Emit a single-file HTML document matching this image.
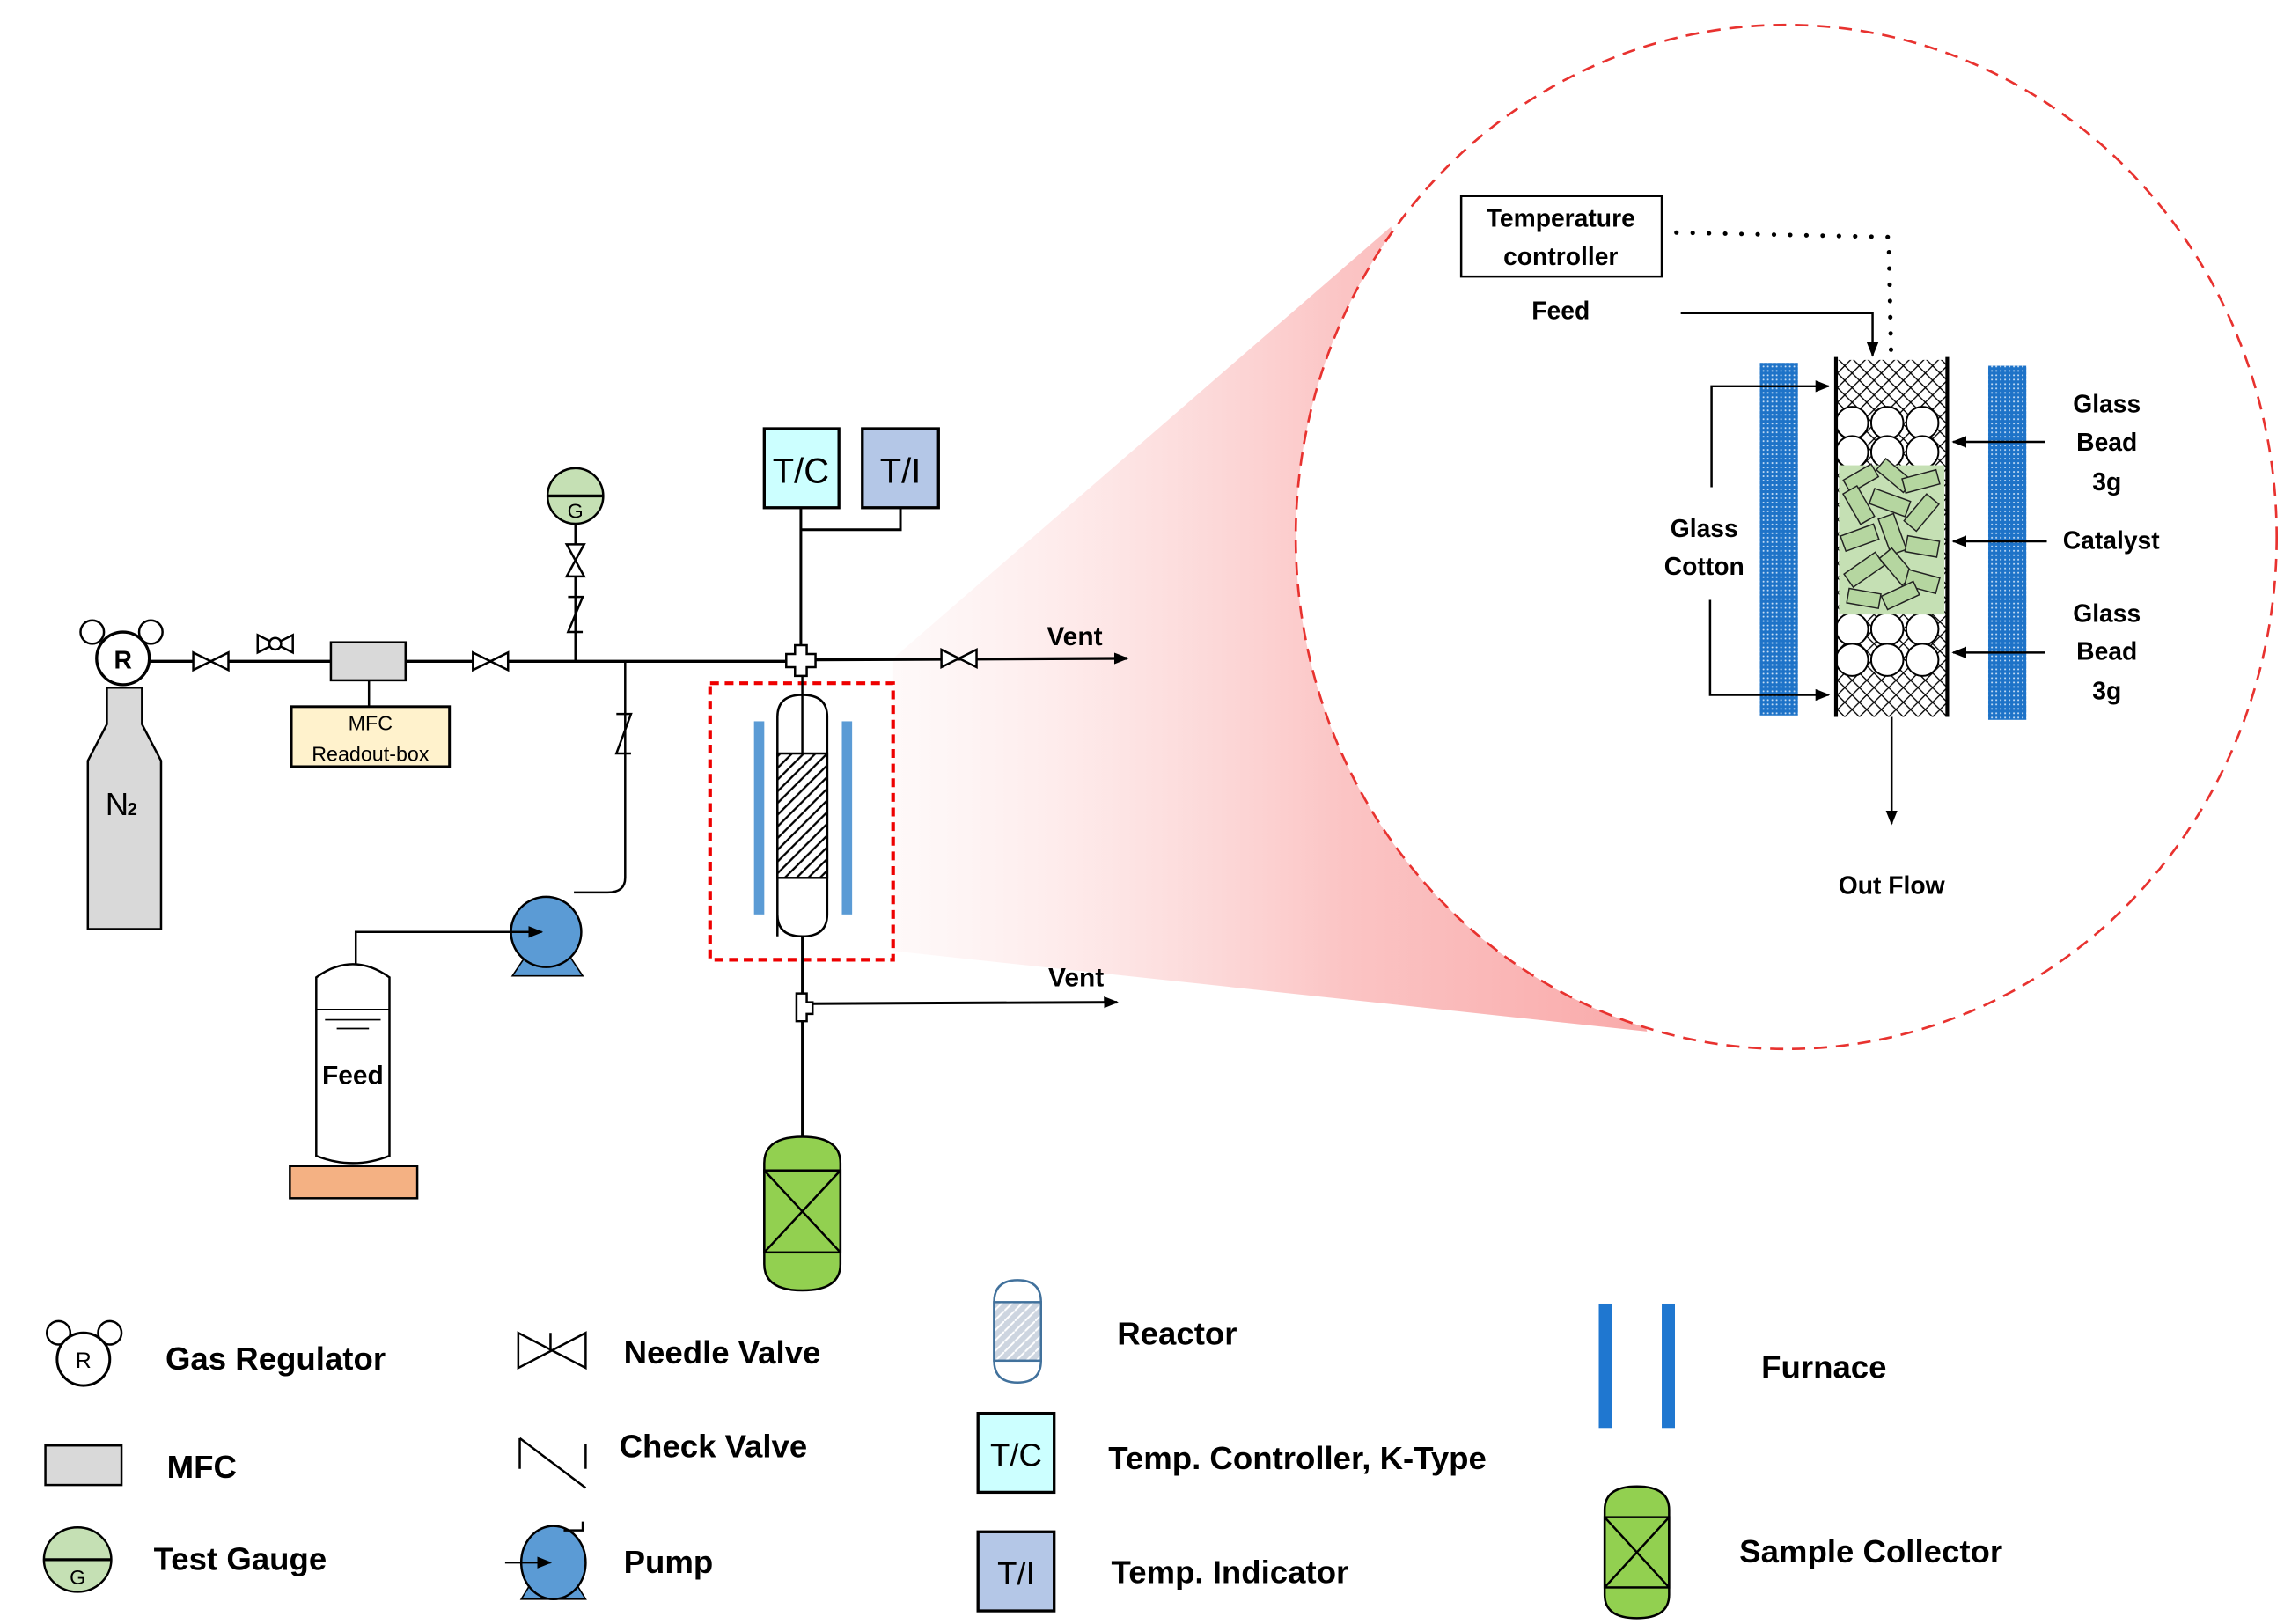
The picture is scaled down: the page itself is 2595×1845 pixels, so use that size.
<!DOCTYPE html>
<html><head><meta charset="utf-8"><style>
html,body{margin:0;padding:0;background:#fff;}
svg{display:block;}
text{font-family:"Liberation Sans",sans-serif;font-weight:bold;fill:#000;}
text.n{font-weight:normal;}
</style></head><body>
<svg width="2595" height="1845" viewBox="0 0 1560 1110" preserveAspectRatio="none" xmlns="http://www.w3.org/2000/svg">
<defs>
<linearGradient id="cone" x1="0" y1="0" x2="1" y2="0">
<stop offset="0" stop-color="#fde2e2" stop-opacity="0.2"/>
<stop offset="0.6" stop-color="#fbc4c4"/>
<stop offset="1" stop-color="#f9aaaa"/>
</linearGradient>
<pattern id="xh" width="10" height="10" patternUnits="userSpaceOnUse">
<rect width="10" height="10" fill="#fff"/>
<path d="M0 0L10 10M10 0L0 10" stroke="#000" stroke-width="0.8"/>
</pattern>
<pattern id="dots" width="3" height="3" patternUnits="userSpaceOnUse">
<rect width="3" height="3" fill="#1e73c8"/>
<circle cx="1.5" cy="1.5" r="0.6" fill="#cfe3f7"/>
</pattern>
<pattern id="hatch" width="8" height="8" patternUnits="userSpaceOnUse">
<rect width="8" height="8" fill="#fff"/>
<path d="M-2 10L10 -2M-2 2L2 -2M6 10L10 6" stroke="#000" stroke-width="1.4"/>
</pattern>
<pattern id="hatch2" width="7" height="7" patternUnits="userSpaceOnUse">
<rect width="7" height="7" fill="#cdd5e0"/>
<path d="M-2 9L9 -2" stroke="#fff" stroke-width="1.2"/>
</pattern>
<marker id="ar" markerWidth="10" markerHeight="10" refX="9" refY="5" orient="auto" markerUnits="userSpaceOnUse">
<path d="M0 1L10 5L0 9z" fill="#000"/>
</marker>
</defs>

<polygon points="610,450 950,155 1125,705 610,650" fill="url(#cone)"/>
<ellipse cx="1220" cy="367" rx="335" ry="350" fill="#fff" stroke="#e8322f" stroke-width="1.6" stroke-dasharray="9,6"/>

<path d="M73 470 L73 495 L60 520 L60 635 L110 635 L110 520 L97 495 L97 470 Z" fill="#d9d9d9" stroke="#000" stroke-width="1.5"/>
<text x="72" y="557" font-size="22" class="n">N</text><text x="87" y="557" font-size="12">2</text>
<circle cx="63" cy="432" r="8" fill="#fff" stroke="#000" stroke-width="1.5"/>
<circle cx="103" cy="432" r="8" fill="#fff" stroke="#000" stroke-width="1.5"/>
<circle cx="84" cy="450" r="18" fill="#fff" stroke="#000" stroke-width="2"/>
<text x="84" y="457" font-size="17" text-anchor="middle">R</text>

<line x1="102" y1="452" x2="545" y2="452" stroke="#000" stroke-width="2"/>
<line x1="555" y1="451" x2="770" y2="450" stroke="#000" stroke-width="2" marker-end="url(#ar)"/>
<g stroke="#000" stroke-width="1.5" fill="#fff">
<path d="M132 446 L156 458 L156 446 L132 458 Z"/>
<path d="M176 434 L200 446 L200 434 L176 446 Z"/>
<circle cx="188" cy="440" r="4"/>
<path d="M323 446 L347 458 L347 446 L323 458 Z"/>
<path d="M643 444 L667 456 L667 444 L643 456 Z"/>
</g>
<rect x="226" y="439" width="51" height="26" fill="#d9d9d9" stroke="#000" stroke-width="1.5"/>
<line x1="252" y1="465" x2="252" y2="483" stroke="#000" stroke-width="1.5"/>
<rect x="199" y="483" width="108" height="41" fill="#fff2cc" stroke="#000" stroke-width="1.8"/>
<text x="253" y="499" font-size="14" class="n" text-anchor="middle">MFC</text>
<text x="253" y="520" font-size="14" class="n" text-anchor="middle">Readout-box</text>

<line x1="393" y1="452" x2="393" y2="358" stroke="#000" stroke-width="1.5"/>
<path d="M387 372 L399 372 L387 394 L399 394 Z" fill="#fff" stroke="#000" stroke-width="1.5"/>
<path d="M388 408 L398 408 L388 432 L398 432" fill="none" stroke="#000" stroke-width="1.5"/>
<circle cx="393" cy="339" r="19" fill="#c5e0b4" stroke="#000" stroke-width="1.5"/>
<line x1="374" y1="339" x2="412" y2="339" stroke="#000" stroke-width="2"/>
<text x="393" y="354" font-size="14" class="n" text-anchor="middle">G</text>

<path d="M427 452 L427 600 Q427 610 415 610 L392 610" fill="none" stroke="#000" stroke-width="1.5"/>
<path d="M421 488 L431 488 L421 515 L431 515" fill="none" stroke="#000" stroke-width="1.5"/>
<path d="M350 667 L398 667 L390 655 L358 655 Z" fill="#5b9bd5" stroke="#000" stroke-width="1"/>
<circle cx="373" cy="637" r="24" fill="#5b9bd5" stroke="#000" stroke-width="1.5"/>
<path d="M243 660 L243 637 L370 637" fill="none" stroke="#000" stroke-width="1.5" marker-end="url(#ar)"/>
<path d="M216 668 Q241 650 266 668 L266 790 Q241 800 216 790 Z" fill="#fff" stroke="#000" stroke-width="1.5"/>
<line x1="216" y1="690" x2="266" y2="690" stroke="#000" stroke-width="1"/>
<line x1="222" y1="697" x2="260" y2="697" stroke="#000" stroke-width="1"/>
<line x1="230" y1="703" x2="252" y2="703" stroke="#000" stroke-width="1"/>
<text x="241" y="741" font-size="18" text-anchor="middle">Feed</text>
<rect x="198" y="797" width="87" height="22" fill="#f4b183" stroke="#000" stroke-width="1.5"/>

<rect x="522" y="293" width="51" height="54" fill="#ccffff" stroke="#000" stroke-width="2"/>
<rect x="589" y="293" width="52" height="54" fill="#b4c7e7" stroke="#000" stroke-width="2"/>
<text x="547" y="330" font-size="24" class="n" text-anchor="middle">T/C</text>
<text x="615" y="330" font-size="24" class="n" text-anchor="middle">T/I</text>
<path d="M547 347 L547 445 M547 362 L615 362 L615 347" fill="none" stroke="#000" stroke-width="1.8"/>
<path d="M543 441 h8 v6 h6 v9 h-6 v6 h-8 v-6 h-6 v-9 h6z" fill="#fff" stroke="#000" stroke-width="1.5"/>

<rect x="485" y="467" width="125" height="189" fill="none" stroke="#e00" stroke-width="2.5" stroke-dasharray="6,4"/>
<rect x="515" y="493" width="7" height="132" fill="#5b9bd5"/>
<rect x="575" y="493" width="7" height="132" fill="#5b9bd5"/>
<path d="M531 640 L531 490 Q531 475 548 475 Q565 475 565 490 L565 625 Q565 640 548 640 Q531 640 531 625" fill="#fff" stroke="#000" stroke-width="1.5"/>
<rect x="531" y="515" width="34" height="85" fill="url(#hatch)" stroke="#000" stroke-width="1.5"/>
<line x1="548" y1="462" x2="548" y2="515" stroke="#000" stroke-width="1.5"/>
<line x1="548" y1="640" x2="548" y2="780" stroke="#000" stroke-width="1.8"/>
<path d="M544 679 h7 v6 h4 v8 h-4 v5 h-7z" fill="#fff" stroke="#000" stroke-width="1.5"/>
<line x1="555" y1="686" x2="763" y2="685" stroke="#000" stroke-width="1.8" marker-end="url(#ar)"/>
<text x="734" y="441" font-size="18" text-anchor="middle">Vent</text>
<text x="735" y="674" font-size="18" text-anchor="middle">Vent</text>
<path d="M522 795 Q522 777 548 777 Q574 777 574 795 L574 864 Q574 882 548 882 Q522 882 522 864 Z" fill="#92d050" stroke="#000" stroke-width="1.5"/>
<rect x="522" y="800" width="52" height="56" fill="none" stroke="#000" stroke-width="1.5"/>
<path d="M522 800 L574 856 M574 800 L522 856" stroke="#000" stroke-width="1.5"/>

<rect x="998" y="134" width="137" height="55" fill="#fff" stroke="#000" stroke-width="1.5"/>
<text x="1066" y="155" font-size="17" text-anchor="middle">Temperature</text>
<text x="1066" y="181" font-size="17" text-anchor="middle">controller</text>
<path d="M1145 159 L1290 162 L1292 260" fill="none" stroke="#000" stroke-width="3" stroke-dasharray="0.1,11" stroke-linecap="round"/>
<text x="1066" y="218" font-size="17" text-anchor="middle">Feed</text>
<path d="M1148 214 L1279 214 L1279 243" fill="none" stroke="#000" stroke-width="1.5" marker-end="url(#ar)"/>
<rect x="1202" y="248" width="26" height="241" fill="url(#dots)"/>
<rect x="1358" y="250" width="26" height="242" fill="url(#dots)"/>
<rect x="1254" y="246" width="76" height="244" fill="url(#xh)"/>
<g fill="#fff" stroke="#000" stroke-width="1.2">
<circle cx="1265" cy="289" r="11"/><circle cx="1289" cy="289" r="11"/><circle cx="1313" cy="289" r="11"/>
<circle cx="1265" cy="309" r="11"/><circle cx="1289" cy="309" r="11"/><circle cx="1313" cy="309" r="11"/>
<circle cx="1265" cy="430" r="11"/><circle cx="1289" cy="430" r="11"/><circle cx="1313" cy="430" r="11"/>
<circle cx="1265" cy="451" r="11"/><circle cx="1289" cy="451" r="11"/><circle cx="1313" cy="451" r="11"/>
</g>
<rect x="1256" y="318" width="72" height="102" fill="#c5e0b4"/>
<g fill="#b5d6a0" stroke="#222" stroke-width="0.9">
<rect x="1260" y="322" width="22" height="10" transform="rotate(-30 1271 327)"/>
<rect x="1282" y="320" width="24" height="10" transform="rotate(40 1294 325)"/>
<rect x="1300" y="324" width="24" height="10" transform="rotate(-15 1312 329)"/>
<rect x="1258" y="340" width="24" height="11" transform="rotate(60 1270 345)"/>
<rect x="1278" y="338" width="26" height="11" transform="rotate(20 1291 343)"/>
<rect x="1300" y="345" width="24" height="11" transform="rotate(-50 1312 350)"/>
<rect x="1258" y="362" width="24" height="11" transform="rotate(-20 1270 367)"/>
<rect x="1280" y="360" width="26" height="11" transform="rotate(70 1293 365)"/>
<rect x="1302" y="368" width="22" height="11" transform="rotate(10 1313 373)"/>
<rect x="1260" y="384" width="26" height="11" transform="rotate(-35 1273 389)"/>
<rect x="1284" y="382" width="24" height="11" transform="rotate(50 1296 387)"/>
<rect x="1302" y="392" width="22" height="11" transform="rotate(15 1313 397)"/>
<rect x="1262" y="404" width="22" height="10" transform="rotate(10 1273 409)"/>
<rect x="1286" y="402" width="24" height="10" transform="rotate(-25 1298 407)"/>
</g>
<line x1="1254" y1="244" x2="1254" y2="490" stroke="#000" stroke-width="2.5"/>
<line x1="1330" y1="244" x2="1330" y2="490" stroke="#000" stroke-width="2.5"/>
<line x1="1292" y1="490" x2="1292" y2="563" stroke="#000" stroke-width="1.5" marker-end="url(#ar)"/>
<text x="1292" y="611" font-size="17" text-anchor="middle">Out Flow</text>
<path d="M1169 333 L1169 264 L1249 264" fill="none" stroke="#000" stroke-width="1.5" marker-end="url(#ar)"/>
<path d="M1168 410 L1168 475 L1249 475" fill="none" stroke="#000" stroke-width="1.5" marker-end="url(#ar)"/>
<text x="1164" y="367" font-size="17" text-anchor="middle">Glass</text>
<text x="1164" y="393" font-size="17" text-anchor="middle">Cotton</text>
<line x1="1397" y1="302" x2="1334" y2="302" stroke="#000" stroke-width="1.5" marker-end="url(#ar)"/>
<line x1="1398" y1="370" x2="1334" y2="370" stroke="#000" stroke-width="1.5" marker-end="url(#ar)"/>
<line x1="1397" y1="446" x2="1334" y2="446" stroke="#000" stroke-width="1.5" marker-end="url(#ar)"/>
<text x="1439" y="282" font-size="17" text-anchor="middle">Glass</text>
<text x="1439" y="308" font-size="17" text-anchor="middle">Bead</text>
<text x="1439" y="335" font-size="17" text-anchor="middle">3g</text>
<text x="1442" y="375" font-size="17" text-anchor="middle">Catalyst</text>
<text x="1439" y="425" font-size="17" text-anchor="middle">Glass</text>
<text x="1439" y="451" font-size="17" text-anchor="middle">Bead</text>
<text x="1439" y="478" font-size="17" text-anchor="middle">3g</text>

<circle cx="40" cy="911" r="8" fill="#fff" stroke="#000" stroke-width="1.5"/>
<circle cx="75" cy="911" r="8" fill="#fff" stroke="#000" stroke-width="1.5"/>
<circle cx="57" cy="929" r="18" fill="#fff" stroke="#000" stroke-width="1.8"/>
<text x="57" y="935" font-size="15" class="n" text-anchor="middle">R</text>
<text x="113" y="936" font-size="22">Gas Regulator</text>
<rect x="31" y="988" width="52" height="27" fill="#d9d9d9" stroke="#000" stroke-width="1.5"/>
<text x="114" y="1010" font-size="22">MFC</text>
<ellipse cx="53" cy="1066" rx="23" ry="22" fill="#c5e0b4" stroke="#000" stroke-width="1.5"/>
<line x1="30" y1="1066" x2="76" y2="1066" stroke="#000" stroke-width="2"/>
<text x="53" y="1083" font-size="14" class="n" text-anchor="middle">G</text>
<text x="105" y="1073" font-size="22">Test Gauge</text>

<path d="M354 911 L400 935 L400 911 L354 935 Z" fill="none" stroke="#000" stroke-width="1.5"/>
<line x1="376" y1="911" x2="376" y2="923" stroke="#000" stroke-width="1.5"/>
<text x="426" y="932" font-size="22">Needle Valve</text>
<path d="M355 983 L355 1004 M355 983 L400 1017 M400 987 L400 1004" fill="none" stroke="#000" stroke-width="1.5"/>
<text x="423" y="996" font-size="22">Check Valve</text>
<path d="M356 1093 L400 1093 L392 1080 L364 1080 Z" fill="#5b9bd5" stroke="#000" stroke-width="1"/>
<ellipse cx="378" cy="1068" rx="22" ry="25" fill="#5b9bd5" stroke="#000" stroke-width="1.5"/>
<path d="M345 1068 L376 1068" stroke="#000" stroke-width="1.5" marker-end="url(#ar)"/>
<path d="M385 1046 L398 1046 L398 1040" fill="none" stroke="#000" stroke-width="1.5"/>
<text x="426" y="1075" font-size="22">Pump</text>

<path d="M679 890 Q679 875 695 875 Q711 875 711 890 L711 930 Q711 945 695 945 Q679 945 679 930 Z" fill="#fff" stroke="#41719c" stroke-width="1.5"/>
<rect x="679" y="890" width="32" height="40" fill="url(#hatch2)" stroke="#41719c" stroke-width="1.5"/>
<text x="763" y="919" font-size="22">Reactor</text>
<rect x="668" y="966" width="52" height="54" fill="#ccffff" stroke="#000" stroke-width="2"/>
<text x="694" y="1002" font-size="22" class="n" text-anchor="middle">T/C</text>
<text x="757" y="1004" font-size="22">Temp. Controller, K-Type</text>
<rect x="668" y="1047" width="52" height="54" fill="#b4c7e7" stroke="#000" stroke-width="2"/>
<text x="694" y="1083" font-size="22" class="n" text-anchor="middle">T/I</text>
<text x="759" y="1082" font-size="22">Temp. Indicator</text>

<rect x="1092" y="891" width="9" height="85" fill="#1f77d0"/>
<rect x="1135" y="891" width="9" height="85" fill="#1f77d0"/>
<text x="1203" y="942" font-size="22">Furnace</text>
<path d="M1096 1032 Q1096 1016 1118 1016 Q1140 1016 1140 1032 L1140 1090 Q1140 1106 1118 1106 Q1096 1106 1096 1090 Z" fill="#92d050" stroke="#000" stroke-width="1.5"/>
<rect x="1096" y="1037" width="44" height="48" fill="none" stroke="#000" stroke-width="1.5"/>
<path d="M1096 1037 L1140 1085 M1140 1037 L1096 1085" stroke="#000" stroke-width="1.5"/>
<text x="1188" y="1068" font-size="22">Sample Collector</text>
</svg>
</body></html>
